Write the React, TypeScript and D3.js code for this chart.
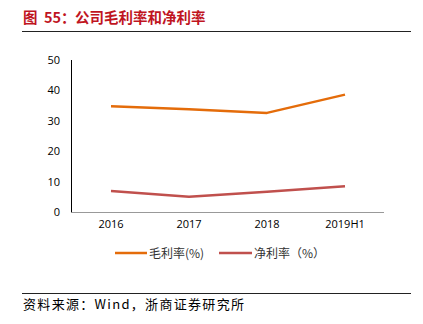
import React from "react";
import * as d3 from "d3";

const categories = ["2016", "2017", "2018", "2019H1"];
const grossMargin = [34.8, 33.8, 32.6, 38.6];
const netMargin = [6.9, 5.0, 6.7, 8.5];
const yTicks = [0, 10, 20, 30, 40, 50];
const seriesNames = ["毛利率(%)", "净利率（%）"];
const colors = ["#E46C0A", "#C0504D"];

export default function App() {
  const W = 423, H = 324;
  const x = d3.scaleBand().domain(categories).range([72, 384]);
  const y = d3.scaleLinear().domain([0, 50]).range([212, 60]);
  const line = d3
    .line<number>()
    .x((_, i) => (x(categories[i]) as number) + x.bandwidth() / 2)
    .y((d) => y(d));
  const font = "'Noto Sans CJK SC', 'Liberation Sans', sans-serif";
  const numFont = "'Open Sans', 'DejaVu Sans', sans-serif";
  return (
    <svg width={W} height={H} style={{ position: "absolute", left: 0, top: 0 }}>
      <rect width={W} height={H} fill="#fff" />
      <text y={23} fill="#C0151F" fontSize={14.5} fontWeight="bold" fontFamily={font}>
        <tspan x={23}>图</tspan>
        <tspan x={44}>55：</tspan>
        <tspan x={75}>公司毛利率和净利率</tspan>
      </text>
      <line x1={22} x2={411} y1={31.5} y2={31.5} stroke="#222" strokeWidth={1} />
      {yTicks.map((t) => (
        <text key={t} x={60} y={y(t) + 4} textAnchor="end" fontSize={11} fontFamily={numFont} fill="#000">
          {t}
        </text>
      ))}
      <line x1={71.5} x2={71.5} y1={60} y2={212.5} stroke="#000" strokeWidth={1} />
      <line x1={71.5} x2={384} y1={212.5} y2={212.5} stroke="#999" strokeWidth={1} />
      {categories.map((c) => (
        <text key={c} x={(x(c) as number) + x.bandwidth() / 2} y={228} textAnchor="middle" fontSize={11} fontFamily={numFont} fill="#000">
          {c}
        </text>
      ))}
      <path d={line(grossMargin) || ""} fill="none" stroke={colors[0]} strokeWidth={2.5} strokeLinejoin="round" />
      <path d={line(netMargin) || ""} fill="none" stroke={colors[1]} strokeWidth={2.5} strokeLinejoin="round" />
      <line x1={115} x2={147} y1={253} y2={253} stroke={colors[0]} strokeWidth={2.5} />
      <text x={149} y={257.5} fontSize={12} fontFamily={font} fill="#333">{seriesNames[0]}</text>
      <line x1={219} x2={252} y1={253} y2={253} stroke={colors[1]} strokeWidth={2.5} />
      <text x={254} y={257.5} fontSize={12} fontFamily={font} fill="#333">{seriesNames[1]}</text>
      <line x1={22} x2={411} y1={293.5} y2={293.5} stroke="#222" strokeWidth={1} />
      <text x={23} y={309} fontSize={13} fontFamily={font} fill="#000" textLength={221} lengthAdjust="spacing">
        资料来源：Wind，浙商证券研究所
      </text>
    </svg>
  );
}
